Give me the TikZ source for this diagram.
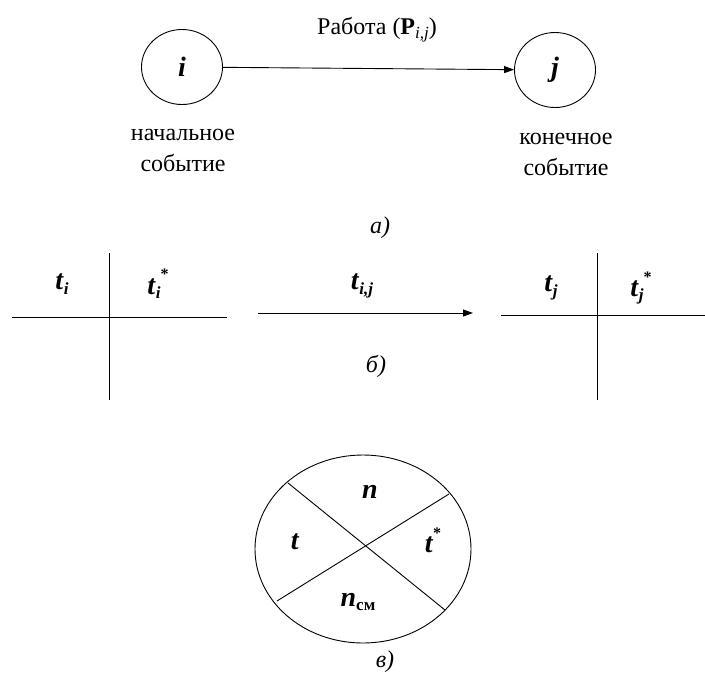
\documentclass[tikz,border=0pt]{standalone}
\usepackage{fontspec}
\setmainfont{Liberation Serif}
\usetikzlibrary{arrows.meta,shapes.geometric}
\newcommand{\bit}[1]{\textbf{\textit{#1}}}
\newcommand{\sbs}[1]{\raisebox{-0.35ex}{\fontsize{17}{17}\selectfont\bit{#1}}}
\newcommand{\sbn}[1]{\raisebox{-0.35ex}{\fontsize{17}{17}\selectfont\textit{#1}}}
\newcommand{\sbr}[1]{\raisebox{-0.3ex}{\fontsize{17}{17}\selectfont\textbf{#1}}}
\newcommand{\sps}{\raisebox{1.1ex}{\fontsize{16}{16}\selectfont\textbf{*}}}
\begin{document}
\begin{tikzpicture}[x=1pt,y=-1pt,
  every node/.style={font=\fontsize{24}{31}\selectfont},
  lbl/.style={font=\fontsize{28}{30}\selectfont},
  ev/.style={draw, ellipse, minimum width=81pt, minimum height=75pt, inner sep=0pt, line width=0.9pt, font=\fontsize{28}{30}\selectfont},
  ln/.style={line width=0.9pt},
  arr/.style={ln, -{Triangle[length=10pt,width=7pt]}}]
\useasboundingbox (0,0) rectangle (705,681);
% a)
\node[ev] (i) at (182,67) {\bit{i}};
\node[ev] (j) at (555,70) {\bit{j}};
\draw[arr] (i) -- (j);
\node (w) at (377,30) {Работа (\textbf{P}\sbn{i,j})};
\node[align=center] (s1) at (183,150) {начальное\\событие};
\node[align=center] (s2) at (566,154) {конечное\\событие};
\node (la) at (380,228) {\textit{а)}};
% б)
\coordinate (L1) at (12,317);
\coordinate (L2) at (227,317);
\coordinate (V1) at (109,253);
\coordinate (V2) at (109,400);
\draw[ln] (L1) -- (L2);
\draw[ln] (V1) -- (V2);
\node[lbl] (ti) at (62,284) {\bit{t}\sbs{i}};
\node[lbl] (tis) at (158,284) {\bit{t}\sbs{i}\sps};
\coordinate (A1) at (258,313);
\coordinate (A2) at (473,313);
\draw[arr] (A1) -- (A2);
\node[lbl] (tij) at (362,286) {\bit{t}\sbs{i,j}};
\coordinate (R1) at (501,315);
\coordinate (R2) at (705,315);
\coordinate (W1) at (597,253);
\coordinate (W2) at (597,400);
\draw[ln] (R1) -- (R2);
\draw[ln] (W1) -- (W2);
\node[lbl] (tj) at (551,288) {\bit{t}\sbs{j}};
\node[lbl] (tjs) at (641,288) {\bit{t}\sbs{j}\sps};
\node (lb) at (376,366) {\textit{б)}};
% в)
\node[draw, ellipse, minimum width=216pt, minimum height=188pt, ln] (E) at (363,549) {};
\coordinate (P1) at (288,483);
\coordinate (P2) at (445,610);
\coordinate (Q1) at (449,494);
\coordinate (Q2) at (277,601);
\draw[ln] (P1) -- (P2);
\draw[ln] (Q1) -- (Q2);
\node[lbl] (n) at (370,492) {\bit{n}};
\node[lbl] (t) at (295,542) {\bit{t}};
\node[lbl] (ts) at (433,540) {\bit{t}\sps};
\node[lbl] (nsm) at (358,602) {\bit{n}\sbr{см}};
\node (lv) at (385,662) {\textit{в)}};
\end{tikzpicture}
\end{document}
